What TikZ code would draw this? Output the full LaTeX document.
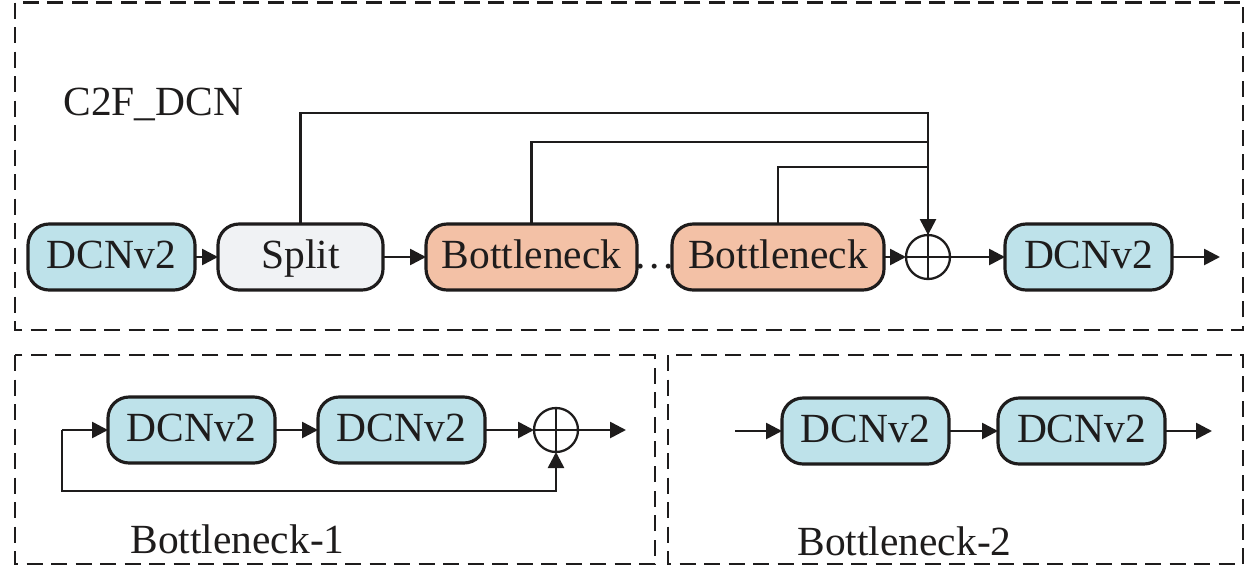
\documentclass[tikz,border=0pt]{standalone}
\usepackage{fontspec}
\setmainfont{Liberation Serif}
\usepackage{tikz}
\usetikzlibrary{arrows.meta,positioning,calc}
\usepackage{xcolor}
\definecolor{dcnblue}{RGB}{190,226,234}
\definecolor{splitgray}{RGB}{240,242,244}
\definecolor{neckorange}{RGB}{243,193,166}
\definecolor{inkgray}{RGB}{30,28,28}
\tikzset{
    block/.style={
        draw=inkgray,line width=1.8pt,rounded corners=12pt,fill=#1,
        minimum width=3.34cm,minimum height=1.32cm,outer sep=0pt,
        inner sep=0pt,text height=.62cm,text depth=.18cm,text=inkgray
    },
    block/.default=dcnblue,
    sum/.style={
        draw=inkgray,line width=1.3pt,circle,minimum size=.88cm,
        inner sep=0pt,outer sep=0pt,
        path picture={\draw[inkgray,line width=1.3pt]
        (path picture bounding box.north)--(path picture bounding box.south)
        (path picture bounding box.west)--(path picture bounding box.east);}
    },
    link/.style={
        -{Triangle[length=3.2mm,width=3.2mm]},line width=1.5pt,draw=inkgray
    },
    wire/.style={line width=1.5pt,draw=inkgray},
    frame/.style={
        draw=inkgray,line width=1.5pt,dash pattern=on .32cm off .17cm
    },
    caption/.style={inner sep=0pt,text=inkgray,anchor=base west}
}

\begin{document}
\begin{tikzpicture}[font=\fontsize{23.6}{28}\selectfont]

\useasboundingbox (0,0) rectangle (25.18,-11.34);

\draw[frame] (0.3,-0.05) rectangle (24.86,-6.6);
\draw[frame] (0.3,-7.1) rectangle (13.1,-11.28);
\draw[frame] (13.36,-7.1) rectangle (24.86,-11.28);

\node[caption] (c2f) at (1.26,-2.3) {C2F\_DCN};

\node[block] (dcn1) at (2.23,-5.14) {DCNv2};

\node[block=splitgray,minimum width=3.3cm,
right=.46cm of dcn1]
(split){Split};

\node[block=neckorange,minimum width=4.22cm,
right=.86cm of split]
(neck1){Bottleneck};

\node[block=neckorange,minimum width=4.24cm,
right=.7cm of neck1]
(neck2){Bottleneck};

\node[inner sep=0pt,anchor=base,text=inkgray]
(dots) at ($(neck1.base east)!.5!(neck2.base west)$) {.\kern2pt.\kern2pt.};

\node[sum,right=.44cm of neck2] (add){};

\node[block,right=1.1cm of add] (dcn2){DCNv2};

\coordinate[right=.96cm of dcn2] (out);

\draw[link](dcn1)--(split);
\draw[link](split)--(neck1);
\draw[link](neck2)--(add);
\draw[link](add)--(dcn2);
\draw[link](dcn2)--(out);

\draw[link](split.north)--++(0,2.22)-|(add.north);
\draw[wire](neck1.north)--++(0,1.64)-|(add.north);
\draw[wire](neck2.north)--++(0,1.14)-|(add.north);

\coordinate (in1) at (1.24,-8.6);

\node[block,right=.92cm of in1] (b1dcn1){DCNv2};

\node[block,right=.86cm of b1dcn1] (b1dcn2){DCNv2};

\node[sum,right=.98cm of b1dcn2] (b1add){};

\coordinate[right=.96cm of b1add] (b1out);

\draw[link](in1)--(b1dcn1);
\draw[link](b1dcn1)--(b1dcn2);
\draw[link](b1dcn2)--(b1add);
\draw[link](b1add)--(b1out);
\draw[link](in1)--++(0,-1.22)-|(b1add.south);

\node[caption] (neck1cap) at (2.6,-11.06) {Bottleneck-1};

\coordinate (in2) at (14.7,-8.62);

\node[block,right=.94cm of in2] (b2dcn1){DCNv2};

\node[block,right=.98cm of b2dcn1] (b2dcn2){DCNv2};

\coordinate[right=.94cm of b2dcn2] (b2out);

\draw[link](in2)--(b2dcn1);
\draw[link](b2dcn1)--(b2dcn2);
\draw[link](b2dcn2)--(b2out);

\node[caption] (neck2cap) at (15.94,-11.1) {Bottleneck-2};

\end{tikzpicture}
\end{document}
